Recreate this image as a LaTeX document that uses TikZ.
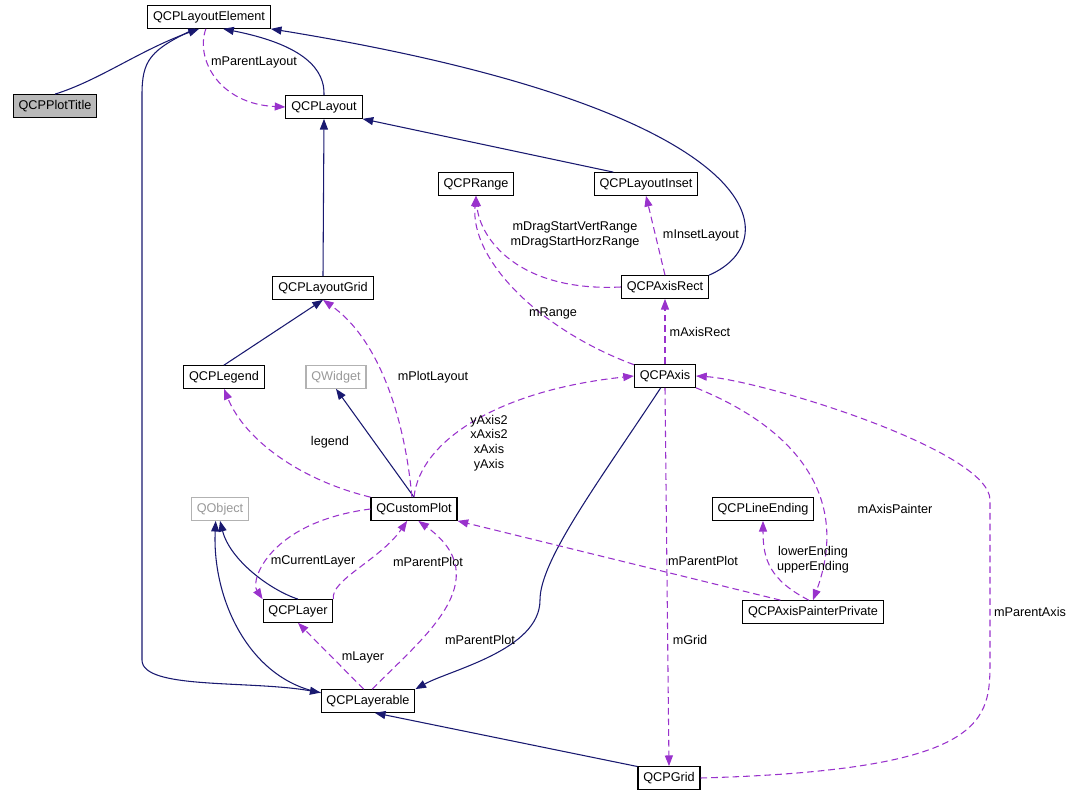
\documentclass[tikz,border=0pt]{standalone}
\usepackage{fontspec}
\setmainfont{Liberation Sans}
\usetikzlibrary{arrows.meta}
\definecolor{inhcol}{RGB}{25,25,112}
\definecolor{usecol}{RGB}{153,50,204}
\begin{document}
\begin{tikzpicture}[x=0.75pt,y=-0.75pt,
  font=\fontsize{9.5}{11}\selectfont,
  cls/.style={draw,fill=white,line width=0.8pt,minimum height=17pt,inner xsep=4pt,inner ysep=1pt},
  ext/.style={cls,draw=gray!60},
  inh/.style={draw=inhcol,line width=0.8pt,-{Triangle[length=8pt,width=6pt]}},
  use/.style={draw=usecol,line width=0.8pt,dash pattern=on 5pt off 3pt,-{Triangle[length=8pt,width=6pt]}},
  lbl/.style={align=center,inner sep=1pt}]
\useasboundingbox (0,0) rectangle (1076,799);

\node[cls] (element) at (209,17) {QCPLayoutElement};
\node[cls,fill=gray!55] (title) at (55,106) {QCPPlotTitle};
\node[cls] (layout) at (324,107) {QCPLayout};
\node[cls] (range) at (476,184) {QCPRange};
\node[cls] (inset) at (646,184) {QCPLayoutInset};
\node[cls] (grid) at (323,288) {QCPLayoutGrid};
\node[cls] (axisrect) at (665,287) {QCPAxisRect};
\node[cls] (legend) at (224,377) {QCPLegend};
\node[ext,text=gray!80] (qwidget) at (336,377) {QWidget};
\node[cls] (axis) at (665,376) {QCPAxis};
\node[ext,text=gray!80] (qobject) at (220,509) {QObject};
\node[cls] (cplot) at (414,509) {QCustomPlot};
\node[cls] (lineend) at (763,509) {QCPLineEnding};
\node[cls] (layer) at (298,611) {QCPLayer};
\node[cls] (painter) at (813,612) {QCPAxisPainterPrivate};
\node[cls] (layerable) at (368,701) {QCPLayerable};
\node[cls] (qgrid) at (669,778) {QCPGrid};

% inheritance
\draw[inh] (title.north) .. controls (100,80) and (140,50) .. (element.230);
\draw[inh] (layout.north) .. controls (325,70) and (305,45) .. (element.-40);
\draw[inh] (inset.160) -- (layout.south east);
\draw[inh] (grid.north) -- (layout.south);
\draw[inh] (legend.north) -- (grid.south);
\draw[inh] (axisrect.north east) .. controls (790,240) and (770,110) .. (element.south east);
\draw[inh] (cplot.north) -- (qwidget.south);
\draw[inh] (layer.north) .. controls (270,590) and (230,560) .. (qobject.south);
\draw[inh] (layerable.170) .. controls (250,680) and (212,600) .. (qobject.250);
\draw[inh] (element.220) .. controls (150,50) and (142,60) .. (142,95) -- (142,660)
  .. controls (142,690) and (250,680) .. (layerable.170);
\draw[inh] (axis.250) .. controls (600,480) and (540,560) .. (540,600)
  .. controls (540,650) and (450,670) .. (layerable.north east);
\draw[inh] (qgrid.160) -- (layerable.-60);

% usage
\draw[use] (element.255) .. controls (195,60) and (220,104) .. (layout.west);
\node[lbl] (lparent) at (254,62) {mParentLayout};
\draw[use] (axisrect.west) .. controls (520,292) and (480,240) .. (range.south);
\node[lbl] (ldrag) at (575,235) {mDragStartVertRange\\mDragStartHorzRange};
\draw[use] (axisrect.north) -- (inset.south);
\node[lbl] (linset) at (701,235) {mInsetLayout};
\draw[use] (axis.160) .. controls (540,330) and (470,260) .. (range.south);
\node[lbl] (lrange) at (553,313) {mRange};
\draw[use] (axis.north) -- (axisrect.south);
\node[lbl] (laxisrect) at (700,332) {mAxisRect};
\draw[use] (cplot.100) .. controls (405,420) and (380,340) .. (grid.south);
\node[lbl] (lplotlayout) at (433,377) {mPlotLayout};
\draw[use] (cplot.north west) .. controls (300,480) and (245,440) .. (legend.south);
\node[lbl] (llegend) at (330,442) {legend};
\draw[use] (cplot.north) .. controls (420,440) and (500,390) .. (axis.west);
\node[lbl] (laxes) at (489,443) {yAxis2\\xAxis2\\xAxis\\yAxis};
\draw[use] (axis.south east) .. controls (800,430) and (850,500) .. (painter.north);
\node[lbl] (lpainter) at (895,509) {mAxisPainter};
\draw[use] (axis.south) -- (qgrid.north);
\node[lbl] (lgrid) at (690,640) {mGrid};
\draw[use] (qgrid.east) .. controls (990,770) and (990,720) .. (990,660) -- (990,500)
  .. controls (990,450) and (760,380) .. (axis.east);
\node[lbl] (lparentaxis) at (1030,612) {mParentAxis};
\draw[use] (painter.160) -- (cplot.south east);
\node[lbl] (lpplot1) at (703,561) {mParentPlot};
\draw[use] (painter.110) .. controls (770,580) and (763,560) .. (lineend.south);
\node[lbl] (lends) at (813,560) {lowerEnding\\upperEnding};
\draw[use] (cplot.west) .. controls (270,522) and (250,580) .. (layer.north west);
\node[lbl] (lcurlayer) at (313,561) {mCurrentLayer};
\draw[use] (layer.north east) .. controls (330,580) and (380,560) .. (cplot.240);
\node[lbl] (lpplot2) at (428,562) {mParentPlot};
\draw[use] (layerable.70) .. controls (420,640) and (500,580) .. (cplot.-70);
\node[lbl] (lpplot3) at (480,640) {mParentPlot};
\draw[use] (layerable.110) -- (layer.south);
\node[lbl] (llayer) at (363,657) {mLayer};
\end{tikzpicture}
\end{document}
